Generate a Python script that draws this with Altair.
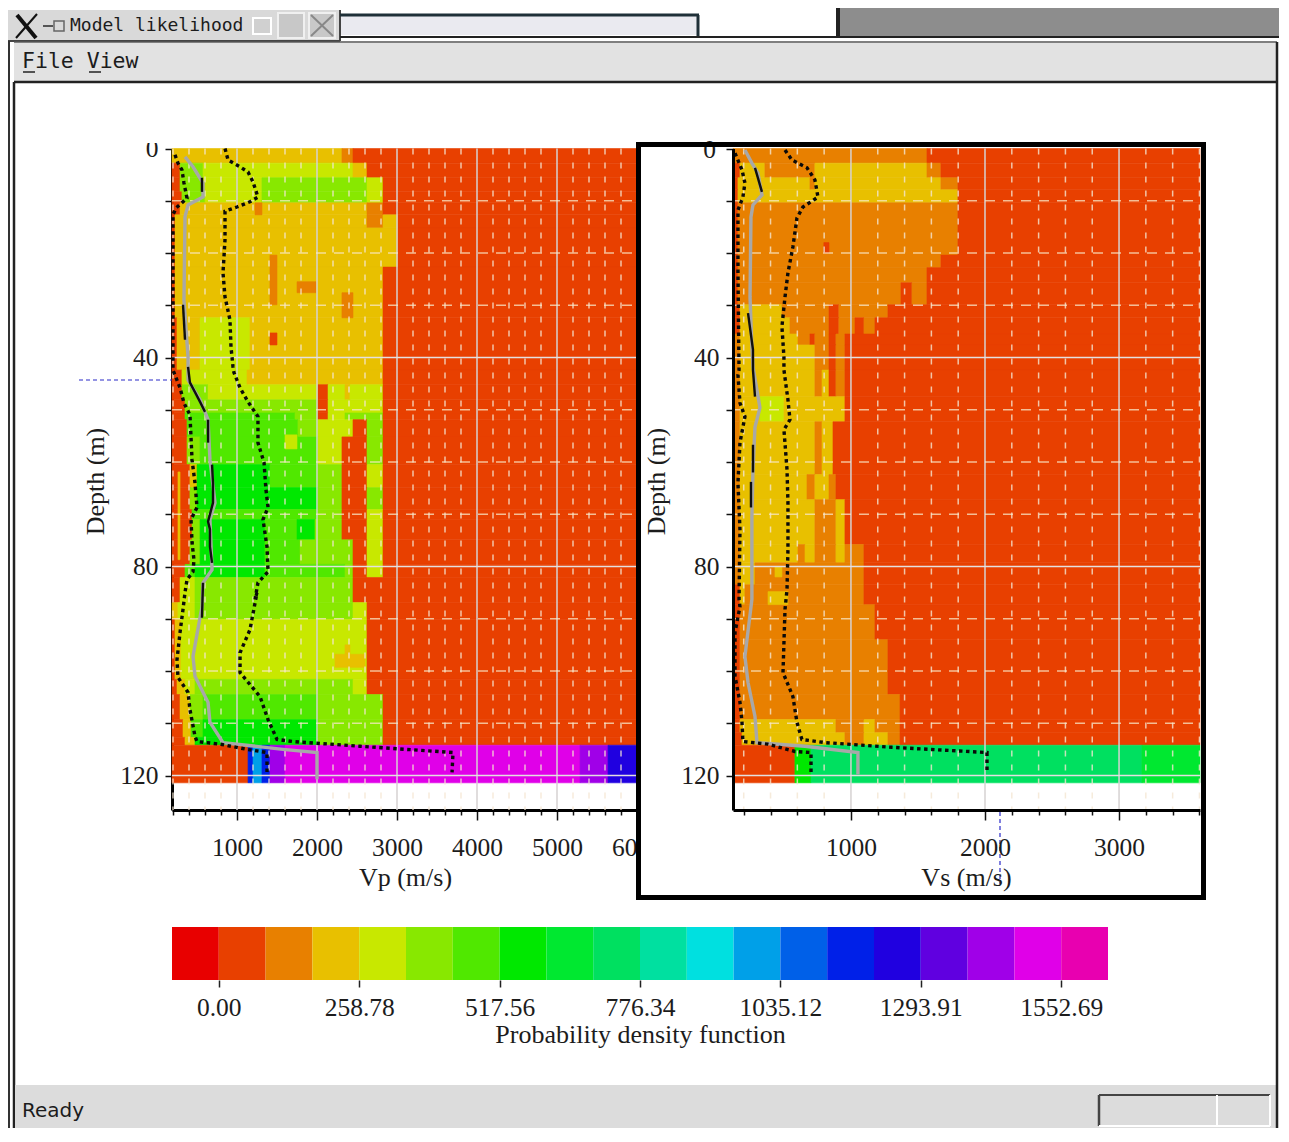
import altair as alt
import pandas as pd

W, H = 1271, 1120
SERIF = "Liberation Serif"
MONO = "DejaVu Sans Mono"
INK = "#1c1c1c"
LABEL_SIZE = 25.5
TITLE_SIZE = 26

PALETTE = ["#e80000", "#e84000", "#e88000", "#e8c000", "#c8e800", "#88e800", "#50e800",
           "#00e800", "#00e830", "#00e060", "#00e0a0", "#00e0e0", "#00a0e8", "#0060e8",
           "#0020e8", "#2000e0", "#6000e0", "#a000e8", "#e000e8", "#e800b0"]
LEVELS = list(range(20))
LEVEL_STEP = 86.26
CBAR_TICKS = [0.00, 258.78, 517.56, 776.34, 1035.12, 1293.91, 1552.69]

VP_MIN, VP_MAX = 187.5, 6000
VS_MIN, VS_MAX = 120, 3604
DEPTH_MAX = 126.6
HEAT_BOTTOM = 121.4

# (top depth, bottom depth, runs of (right edge m/s, level))
VP_ROWS = [
    (0, 2.8, [(2312, 3), (2450, 2)]),
    (2.8, 5.6, [(288, 1), (575, 5), (2450, 4), (2625, 3)]),
    (5.6, 8.3, [(288, 1), (575, 5), (1312, 4), (2625, 5), (2825, 4)]),
    (8.3, 10.4, [(312, 1), (600, 5), (1312, 4), (2625, 5), (2825, 4)]),
    (10.4, 12.7, [(288, 1), (2625, 3), (2825, 2)]),
    (12.7, 15.2, [(225, 1), (2625, 3), (2825, 2), (3012, 3)]),
    (15.2, 22.7, [(225, 1), (3012, 3)]),
    (22.7, 32.4, [(225, 1), (2825, 3)]),
    (32.4, 42.4, [(250, 1), (538, 3), (1162, 4), (2825, 3)]),
    (42.4, 45.2, [(312, 1), (1125, 4), (2825, 3)]),
    (45.2, 48.1, [(312, 1), (638, 5), (2012, 4), (2138, 1), (2350, 4), (2412, 3), (2825, 4)]),
    (48.1, 50.6, [(350, 1), (2012, 5), (2138, 1), (2825, 4)]),
    (50.6, 51.9, [(350, 1), (1725, 6), (2012, 5), (2138, 1), (2350, 4), (2825, 5)]),
    (51.9, 55.2, [(375, 1), (1762, 6), (2012, 5), (2450, 4), (2625, 1), (2825, 5)]),
    (55.2, 60.5, [(375, 1), (538, 5), (2012, 6), (2312, 4), (2625, 1), (2825, 5)]),
    (60.5, 64.9, [(412, 1), (500, 3), (1412, 7), (2012, 6), (2312, 5), (2625, 1), (2825, 4)]),
    (64.9, 69.1, [(412, 1), (500, 5), (2012, 7), (2312, 5), (2625, 1), (2825, 5)]),
    (69.1, 71, [(438, 1), (2012, 6), (2312, 5), (2625, 1), (2825, 4)]),
    (71, 74.9, [(438, 1), (538, 5), (1350, 7), (1750, 6), (1975, 7), (2312, 5), (2625, 1), (2825, 4)]),
    (74.9, 79.6, [(412, 1), (538, 5), (1350, 7), (1788, 6), (2450, 5), (2625, 1), (2825, 4)]),
    (79.6, 82.1, [(350, 1), (475, 6), (1350, 7), (2350, 6), (2450, 5), (2625, 1), (2825, 4)]),
    (82.1, 86.9, [(288, 1), (475, 4), (2450, 5)]),
    (86.9, 90.1, [(262, 3), (475, 4), (2450, 5), (2625, 4)]),
    (90.1, 101.6, [(225, 1), (300, 3), (2625, 4)]),
    (101.6, 104.5, [(250, 1), (350, 3), (475, 4), (2450, 5), (2625, 4)]),
    (104.5, 109.3, [(288, 1), (412, 3), (575, 5), (2012, 6), (2825, 5)]),
    (109.3, 112.7, [(325, 1), (425, 3), (575, 6), (2012, 7), (2825, 5)]),
    (112.7, 114.2, [(350, 1), (475, 3), (2012, 7), (2825, 5)]),
    (114.2, HEAT_BOTTOM, [(1138, 1), (1200, 14), (1312, 12), (1412, 14), (1600, 17), (5288, 18),
                          (5638, 17), (6000, 15)]),
]
# (left, right, top, bottom, level)
VP_SPOTS = [
    (1412, 1500, 20.4, 29.9, 2), (1750, 1988, 25.5, 27.6, 2), (2312, 2450, 27.6, 32.4, 2),
    (1412, 1500, 35.3, 37.6, 1), (1225, 1312, 10.4, 12.7, 2), (1600, 1750, 54.8, 57.5, 4),
    (2350, 2412, 95, 96.8, 3), (2225, 2600, 96.8, 99.3, 3), (262, 288, 61.9, 78.7, 3),
]
VS_ROWS = [
    (0, 2.8, [(1567, 2)]),
    (2.8, 5.6, [(172, 1), (358, 3), (731, 2), (1567, 3), (1671, 2)]),
    (5.6, 7.9, [(157, 1), (694, 3), (731, 2), (1671, 3), (1798, 2)]),
    (7.9, 10.4, [(157, 1), (1798, 3)]),
    (10.4, 20.4, [(157, 1), (1798, 2)]),
    (20.4, 22.8, [(157, 1), (1671, 2)]),
    (22.8, 25.7, [(157, 1), (1567, 2)]),
    (25.7, 29.9, [(157, 1), (1373, 2), (1455, 1), (1567, 2)]),
    (29.9, 32.4, [(172, 1), (485, 3), (836, 2), (910, 1), (1276, 2)]),
    (32.4, 35.5, [(172, 1), (545, 3), (836, 2), (910, 1), (1030, 2), (1097, 1), (1179, 2)]),
    (35.5, 37.6, [(172, 2), (605, 3), (694, 2), (731, 1), (836, 2), (888, 1), (955, 2)]),
    (37.6, 42.4, [(172, 2), (731, 3), (836, 2), (888, 1), (955, 2)]),
    (42.4, 47.5, [(172, 2), (731, 3), (784, 2), (836, 3), (888, 1), (955, 2)]),
    (47.5, 52.3, [(172, 2), (321, 3), (500, 4), (955, 3)]),
    (52.3, 62.4, [(172, 2), (731, 3), (784, 2), (866, 3)]),
    (62.4, 67.2, [(172, 2), (672, 3), (731, 2), (836, 3), (888, 2)]),
    (67.2, 75.8, [(172, 2), (731, 3), (888, 2), (955, 3)]),
    (75.8, 79.3, [(172, 2), (605, 3), (657, 2), (731, 3), (888, 2), (955, 3), (1097, 2)]),
    (79.3, 83.5, [(172, 2), (284, 3), (1097, 2)]),
    (83.5, 87.3, [(172, 1), (209, 3), (1097, 2)]),
    (87.3, 94, [(172, 1), (1179, 2)]),
    (94, 104.5, [(172, 1), (1276, 2)]),
    (104.5, 109.3, [(172, 1), (1366, 2)]),
    (109.3, 111.8, [(172, 1), (888, 3), (1097, 2), (1179, 3), (1366, 2)]),
    (111.8, 114.2, [(187, 1), (955, 3), (1097, 2), (1276, 3), (1366, 2)]),
    (114.2, HEAT_BOTTOM, [(582, 1), (702, 7), (3171, 9), (3604, 8)]),
]
VS_SPOTS = [(798, 836, 18, 20, 1), (381, 530, 84.8, 87.3, 3), (433, 485, 80, 82, 3)]

# curves: velocity (m/s), depth (m)
VP_LOW_V = [225, 262, 312, 337, 375, 312, 237, 200, 200, 200, 288, 337, 412, 425, 438, 475, 500, 425, 438,
            462, 450, 375, 350, 325, 288, 250, 262, 388, 412, 475, 500, 788, 1125, 1375, 1375]
VP_LOW_D = [1.2, 2.8, 4.1, 6.6, 9.5, 10.4, 11.4, 12.7, 25, 42.4, 45.8, 48.7, 51, 55.2, 59.6, 64, 68.7, 71,
            75.4, 78.7, 81, 82.5, 85, 88.2, 92.6, 97.8, 101.2, 104.1, 107.4, 112.5, 113.5, 114, 115, 115.6, 119.4]
VP_HIGH_V = [850, 888, 1038, 1138, 1200, 1262, 1162, 1000, 850, 850, 825, 850, 912, 925, 950, 962, 1038, 1138,
             1262, 1262, 1338, 1362, 1388, 1325, 1375, 1388, 1262, 1225, 1250, 1162, 1038, 1038, 1288, 1388,
             1500, 1700, 2538, 3700, 3688]
VP_HIGH_D = [0, 2.2, 3.5, 4.5, 6.4, 9.3, 10.2, 11.2, 12, 17.5, 23.8, 28.4, 32.8, 38, 41.8, 42.9, 45.8, 48.5,
             51.3, 56.3, 60.1, 65.3, 68.7, 71, 76.2, 81, 83.1, 86.3, 85, 92.1, 96.5, 100.3, 104.9, 109.3,
             113.1, 113.5, 114.4, 115.6, 119.4]
VP_MED_V = [350, 450, 575, 575, 388, 350, 337, 388, 388, 538, 638, 662, 725, 662, 688, 575, 562, 450, 475, 638,
            662, 825, 1575, 2000, 2000]
VP_MED_D = [1.6, 3.5, 6.6, 9.3, 10.8, 13.1, 29, 39.9, 44.3, 48.1, 51.9, 59.6, 67.8, 71, 80.6, 83.1, 87.7, 97.2,
            101, 106, 109.8, 113.7, 115, 115.6, 120.7]
VS_LOW_V = [135, 187, 209, 194, 157, 157, 165, 157, 172, 209, 172, 157, 172, 165, 172, 135, 135, 172, 187, 194,
            381, 582, 702, 702]
VS_LOW_D = [0.9, 4.1, 6.6, 9.3, 11.8, 23.8, 42.4, 43.3, 48.7, 51.3, 56.3, 64, 72.9, 86.3, 87.7, 92.6, 101, 106,
            109.8, 113.5, 114, 115.4, 115.6, 119.4]
VS_HIGH_V = [508, 560, 672, 731, 754, 642, 597, 567, 530, 508, 485, 500, 500, 530, 545, 500, 523, 530,
             530, 523, 508, 493, 567, 597, 634, 806, 1306, 2015, 2015]
VS_HIGH_D = [0.3, 2.2, 3.7, 6, 9.3, 11.2, 13.3, 18.8, 23.8, 28.4, 34.1, 39.9, 42.4, 48.1, 51.9, 53.8, 61.5, 67.8,
             76.8, 84.4, 88.2, 100.3, 104.9, 109.8, 113.1, 113.7, 114.6, 115.6, 119.4]
VS_MED_V = [209, 261, 306, 336, 269, 254, 247, 261, 269, 321, 284, 269, 261, 261, 209, 232, 284, 299, 657, 1052,
            1052]
VS_MED_D = [0.3, 2.8, 4.7, 8.9, 10.8, 13.1, 28.4, 38, 41.8, 49.6, 53.3, 61.5, 70.5, 86.3, 97.2, 102.2, 108.7,
            113.7, 114.4, 115.6, 119.8]
# darker stretches of the mean curve: (segment, velocity, depth)
VP_MEAN = [(0, 562, 5.6), (0, 562, 8.3), (1, 325, 29.9), (1, 350, 36.6), (2, 388, 41.8), (2, 412, 44.8), (2, 538, 48.5),
           (2, 600, 50.4), (3, 638, 51.9), (3, 638, 56.3), (4, 688, 60.5), (4, 700, 64), (4, 700, 67.8),
           (4, 638, 71.4), (4, 662, 72.9), (4, 662, 76.2), (4, 688, 79.3), (5, 575, 83.1), (5, 562, 89.8)]
VS_MEAN = [(0, 284, 3.7), (0, 336, 8.3), (1, 232, 31.5), (1, 269, 38.5), (1, 269, 42.4), (1, 284, 47.5),
           (2, 269, 56.7), (2, 269, 62), (3, 254, 63.8), (3, 254, 68.7)]


def px(v):
    return v - 8


def rows_frame(rows, x_start, x_end):
    recs = []
    for top, bottom, runs in rows:
        left = x_start
        for edge, level in runs:
            recs.append(dict(x0=left, x1=edge, y0=top, y1=bottom, level=level))
            left = edge
        if left < x_end and bottom < 114.3:
            recs.append(dict(x0=left, x1=x_end, y0=top, y1=bottom, level=1))
    return pd.DataFrame(recs)


def spots_frame(spots):
    return pd.DataFrame([dict(x0=a, x1=b, y0=c, y1=d, level=l) for a, b, c, d, l in spots])


color_scale = alt.Scale(domain=LEVELS, range=PALETTE)


def heat(df, sx, sy):
    return alt.Chart(df).mark_rect(strokeWidth=0.6).encode(
        x=alt.X("x0:Q", scale=sx, axis=None), x2="x1:Q",
        y=alt.Y("y0:Q", scale=sy, axis=None), y2="y1:Q",
        color=alt.Color("level:N", scale=color_scale, legend=None),
        stroke=alt.Stroke("level:N", scale=color_scale, legend=None),
    )


def curve(v, d, sx, sy, **mark):
    df = pd.DataFrame(dict(v=v, d=d, i=range(len(v))))
    return alt.Chart(df).mark_line(**mark).encode(
        x=alt.X("v:Q", scale=sx, axis=None), y=alt.Y("d:Q", scale=sy, axis=None), order="i:Q")


def mean_curve(rows, sx, sy):
    df = pd.DataFrame(rows, columns=["s", "v", "d"])
    df["i"] = range(len(df))
    return alt.Chart(df).mark_line(color="#101010", strokeWidth=2.4).encode(
        x=alt.X("v:Q", scale=sx, axis=None), y=alt.Y("d:Q", scale=sy, axis=None),
        detail="s:N", order="i:Q")


def panel(rows, spots, x_min, x_max, x_ticks_max, x_range, axis_left_px, x_title, title_cx, v_curves, mean,
          zindex, zero_label):
    sx = alt.Scale(domain=[x_min, x_max], range=x_range, nice=False, zero=False)
    sy = alt.Scale(domain=[0, DEPTH_MAX], range=[px(148.5), px(810)], nice=False, zero=False)
    layers = [heat(rows_frame(rows, x_min, x_max), sx, sy), heat(spots_frame(spots), sx, sy)]

    x_vals = list(range(200, x_ticks_max + 1, 200))
    d_vals = list(range(10, 121, 10))
    minor_x = [v for v in x_vals if v % 1000]
    major_x = [v for v in x_vals if v % 1000 == 0]
    minor_d = [d for d in d_vals if d % 40]
    major_d = [d for d in d_vals if d % 40 == 0]

    depth_expr = "datum.value % 40 === 0 ? datum.label : ''" if zero_label else \
        "datum.value > 0 && datum.value % 40 === 0 ? datum.label : ''"

    xaxis = alt.Axis(
        orient="bottom", offset=px(810) - H, values=x_vals, format="d", title=x_title,
        labelExpr="datum.value % 1000 === 0 ? datum.label : ''", labelOverlap=False, labelBound=False,
        labelFlush=False, labelFont=SERIF, labelFontSize=LABEL_SIZE, labelColor=INK, labelPadding=15,
        tickSize={"condition": {"test": "datum.value % 1000 === 0", "value": 10}, "value": 5},
        tickColor="#111111", tickWidth=1.5, domainColor="#000000", domainWidth=3, grid=False,
        titleFont=SERIF, titleFontSize=TITLE_SIZE, titleFontWeight="normal", titleColor=INK,
        titleX=px(title_cx), titleY=67, titleAlign="center", titleBaseline="middle", titleAnchor="start",
        zindex=zindex)
    yaxis = alt.Axis(
        orient="left", offset=-(px(axis_left_px)), values=[0] + d_vals, format="d", title="Depth (m)",
        labelExpr=depth_expr, labelOverlap=False, labelBound=False,
        labelFlush=False, labelFont=SERIF, labelFontSize=LABEL_SIZE, labelColor=INK, labelPadding=7,
        tickSize=7, tickColor="#111111", tickWidth=1.5, domainColor="#000000", domainWidth=3, grid=False,
        titleFont=SERIF, titleFontSize=TITLE_SIZE, titleFontWeight="normal", titleColor=INK,
        titleX=-77, titleY=px(481), titleAlign="center", titleBaseline="middle", titleAngle=-90,
        titleAnchor="start", zindex=zindex)

    v_minor = pd.DataFrame(dict(v=minor_x, a=0.0, b=DEPTH_MAX))
    v_major = pd.DataFrame(dict(v=major_x, a=0.0, b=DEPTH_MAX))
    h_minor = pd.DataFrame(dict(d=minor_d, a=x_min, b=x_max))
    h_major = pd.DataFrame(dict(d=major_d, a=x_min, b=x_max))
    layers += [
        alt.Chart(v_minor).mark_rule(color="#f4e6d2", strokeWidth=1.5, strokeDash=[6, 8], opacity=0.8).encode(
            x=alt.X("v:Q", scale=sx, axis=None), y=alt.Y("a:Q", scale=sy, axis=None), y2="b:Q"),
        alt.Chart(v_major).mark_rule(color="#d6d2d2", strokeWidth=1.5).encode(
            x=alt.X("v:Q", scale=sx, axis=xaxis), y=alt.Y("a:Q", scale=sy, axis=None), y2="b:Q"),
        alt.Chart(h_minor).mark_rule(color="#f8e8c8", strokeWidth=1.5, strokeDash=[10, 8], opacity=0.75).encode(
            y=alt.Y("d:Q", scale=sy, axis=None), x=alt.X("a:Q", scale=sx, axis=None), x2="b:Q"),
        alt.Chart(h_major).mark_rule(color="#e4e0e0", strokeWidth=1.5).encode(
            y=alt.Y("d:Q", scale=sy, axis=yaxis), x=alt.X("a:Q", scale=sx, axis=None), x2="b:Q"),
    ]
    low, high, med = v_curves
    layers += [
        curve(med[0], med[1], sx, sy, color="#a8a8a8", strokeWidth=3.4),
        mean_curve(mean, sx, sy),
        curve(low[0], low[1], sx, sy, color="#0a0a0a", strokeWidth=3.4, strokeDash=[3.5, 3.5]),
        curve(high[0], high[1], sx, sy, color="#0a0a0a", strokeWidth=3.4, strokeDash=[3.5, 3.5]),
    ]
    return layers


def box(x0, y0, x1, y1, fill, **kw):
    return alt.Chart(pd.DataFrame({"a": [0]})).mark_rect(fill=fill, **kw).encode(
        x=alt.value(px(x0)), x2=alt.value(px(x1)), y=alt.value(px(y0)), y2=alt.value(px(y1)))


def seg(x0, y0, x1, y1, color="#111111", width=2, **kw):
    return alt.Chart(pd.DataFrame({"a": [0]})).mark_rule(color=color, strokeWidth=width, **kw).encode(
        x=alt.value(px(x0)), x2=alt.value(px(x1)), y=alt.value(px(y0)), y2=alt.value(px(y1)))


def label(x, y, s, font, size, color=INK, align="left"):
    return alt.Chart(pd.DataFrame({"a": [0]})).mark_text(
        text=s, font=font, fontSize=size, color=color, align=align, baseline="middle"
    ).encode(x=alt.value(px(x)), y=alt.value(px(y)))


RIGHT_EDGE = 8 + W - 2

chrome = [
    box(8, 10, 340, 41, "#d9d9d9"),
    seg(8, 41, 340, 41, "#444444", 2),
    seg(340, 10, 340, 41, "#444444", 2),
    seg(17, 15, 36, 38, "#111111", 4),
    seg(37, 14, 16, 38, "#111111", 2),
    seg(43, 26, 53, 26, "#555555", 2),
    box(54, 21, 64, 31, "#d9d9d9", stroke="#666666", strokeWidth=1.5),
    label(70, 26, "Model likelihood", MONO, 18),
    box(253, 18, 271, 34, "#d0d0d0", stroke="#ffffff", strokeWidth=2),
    box(278, 13, 304, 38, "#c8c8c8", stroke="#f0f0f0", strokeWidth=2),
    box(309, 13, 335, 38, "#c8c8c8", stroke="#f0f0f0", strokeWidth=2),
    seg(311, 15, 333, 36, "#888888", 2),
    seg(333, 15, 311, 36, "#888888", 2),
    box(341, 16, 698, 35, "#eaeaf0"),
    seg(340, 15, 699, 15, "#1f3038", 3),
    seg(698, 15, 698, 36, "#1f3038", 3),
    seg(340, 37, 838, 37, "#222222", 2),
    box(838, 8, 1289, 36, "#8d8d8d"),
    seg(838, 8, 838, 37, "#222222", 4),
    seg(838, 37, 1289, 37, "#222222", 2),
    box(14, 43, RIGHT_EDGE, 81, "#e2e2e2"),
    seg(14, 82, RIGHT_EDGE, 82, "#222222", 2.5),
    label(22, 62, "File View", MONO, 21.5),
    seg(23, 72, 35, 72, "#222222", 1.5),
    seg(89, 72, 101, 72, "#222222", 1.5),
    seg(9, 41, 9, 1128, "#333333", 2),
    seg(14, 82, 14, 1128, "#222222", 2.5),
    seg(14, 42, RIGHT_EDGE, 42, "#555555", 1.5),
    box(15, 1085, RIGHT_EDGE, 1128, "#dcdcdc"),
    seg(RIGHT_EDGE, 42, RIGHT_EDGE, 1128, "#222222", 2.5),
    label(22, 1111, "Ready", "DejaVu Sans", 20),
    seg(1099, 1095, 1270, 1095, "#444444", 2),
    seg(1099, 1095, 1099, 1126, "#444444", 2.5),
    seg(1099, 1126, 1270, 1126, "#ffffff", 2),
    seg(1270, 1095, 1270, 1126, "#ffffff", 2),
    seg(1217, 1095, 1217, 1126, "#ffffff", 2),
]

left_layers = panel(VP_ROWS, VP_SPOTS, VP_MIN, VP_MAX, 6000, [px(172), px(637)], 172, "Vp (m/s)", 405,
                    ((VP_LOW_V, VP_LOW_D), (VP_HIGH_V, VP_HIGH_D), (VP_MED_V, VP_MED_D)), VP_MEAN, 0, True)
right_layers = panel(VS_ROWS, VS_SPOTS, VS_MIN, VS_MAX, 3600, [px(733), px(1200)], 733, "Vs (m/s)", 966,
                     ((VS_LOW_V, VS_LOW_D), (VS_HIGH_V, VS_HIGH_D), (VS_MED_V, VS_MED_D)), VS_MEAN, 1, False)

left_cover = box(128, 120, 168, 143, "#ffffff")
frame = box(638.5, 144.5, 1203.5, 897.5, "#ffffff", stroke="#000000", strokeWidth=5)
right_zero = label(716, 150, "0", SERIF, LABEL_SIZE, align="right")
frame_top = seg(636, 144.5, 1206, 144.5, "#000000", 5)

crosshair = [
    seg(79, 380, 172, 380, "#2a2ac8", 1.2, strokeDash=[4, 3]),
    seg(1000, 812, 1000, 884, "#2a2ac8", 1.2, strokeDash=[4, 3]),
]

cbar_low = [-LEVEL_STEP + i * LEVEL_STEP for i in LEVELS]
cbar_df = pd.DataFrame(dict(a=cbar_low, b=[v + LEVEL_STEP for v in cbar_low], level=LEVELS))
cbar_scale = alt.Scale(domain=[-LEVEL_STEP, 19 * LEVEL_STEP], range=[px(172), px(1108)], nice=False, zero=False)
cbar = alt.Chart(cbar_df).mark_rect(strokeWidth=0).encode(
    x=alt.X("a:Q", scale=cbar_scale, axis=alt.Axis(
        orient="bottom", offset=px(980) - H, values=CBAR_TICKS, format=".2f",
        title="Probability density function", labelOverlap=False, labelBound=False, labelFlush=False,
        labelFont=SERIF, labelFontSize=LABEL_SIZE, labelColor=INK, labelPadding=8, tickSize=7, tickWidth=1.5,
        tickColor="#222222", domain=False, grid=False, titleFont=SERIF, titleFontSize=TITLE_SIZE,
        titleFontWeight="normal", titleColor=INK, titleX=px(640), titleY=54, titleAlign="center",
        titleBaseline="middle", titleAnchor="start", zindex=1)),
    x2="b:Q",
    y=alt.value(px(927)), y2=alt.value(px(980)),
    color=alt.Color("level:N", scale=color_scale, legend=None),
)

chart = alt.layer(*left_layers, left_cover, frame, right_zero, frame_top, *right_layers, *crosshair, cbar,
                  *chrome).resolve_scale(
    x="independent", y="independent"
).properties(
    width=W, height=H, padding=0, autosize=alt.AutoSizeParams(type="none"), background="#ffffff"
).configure_view(stroke=None)

chart.save("out.html", embed_options={"renderer": "svg", "actions": False})
